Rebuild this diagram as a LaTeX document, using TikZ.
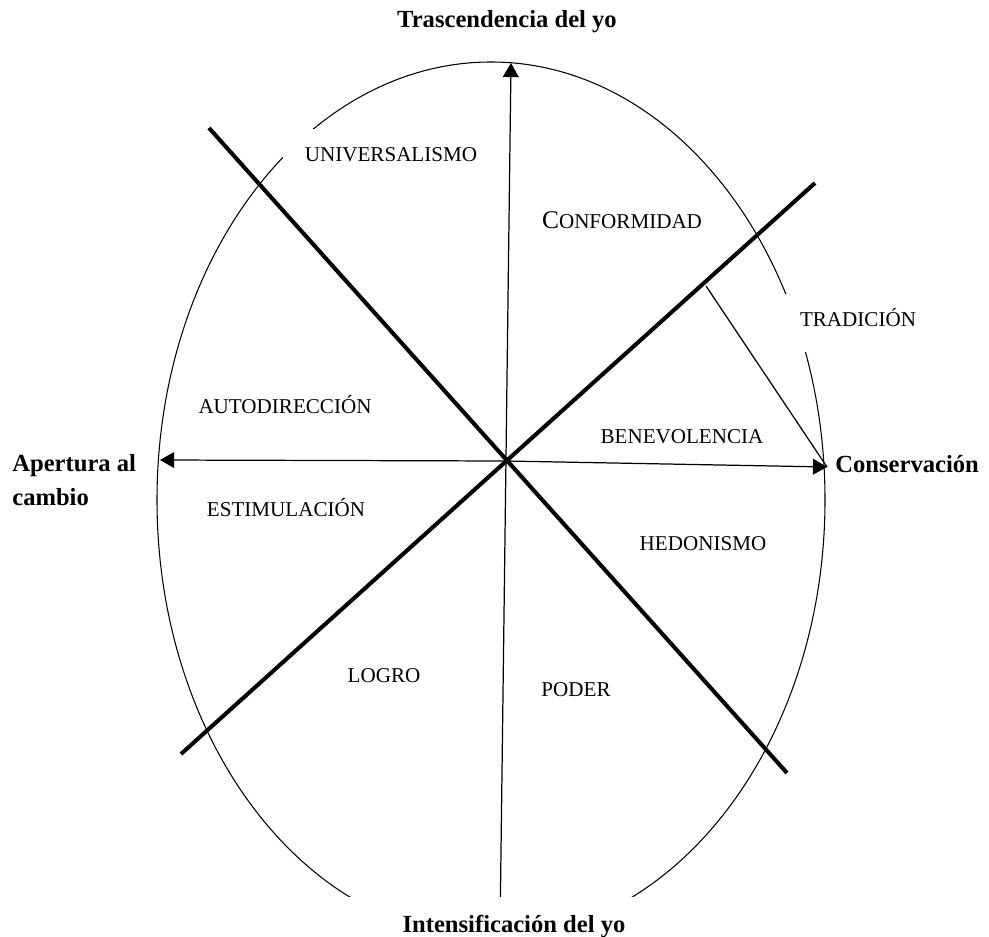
\documentclass[tikz,border=0pt]{standalone}
\usepackage{fontspec}
\setmainfont{Liberation Serif}
\usetikzlibrary{arrows.meta}
\tikzset {>={Triangle[length=8pt,width=9pt]}}
\tikzset{
  valor/.style={fill=white,anchor=base,inner xsep=12.5pt,inner ysep=10.8pt,
    text height=8pt,text depth=3.4pt,font=\fontsize{12}{14}\selectfont},
  polo/.style={anchor=base,inner sep=0pt,font=\fontsize{14}{19}\selectfont\bfseries},
  grueso/.style={line width=2.3pt},
  fino/.style={line width=0.7pt}
}

\begin{document}
\begin{tikzpicture}[x=0.2mm,y=-0.2mm]
\useasboundingbox (0,0) rectangle (989,937);
\coordinate (centro) at (506,461);
\coordinate (arriba) at (511,63);
\coordinate (abajo) at (500,930);
\coordinate (izq) at (160,460);
\coordinate (der) at (827,467);
\coordinate (g1a) at (209,128);
\coordinate (g1b) at (787,773);
\coordinate (g2a) at (181,754);
\coordinate (g2b) at (815,183);
\coordinate (t1) at (706,286);

\draw[line width=0.6pt] (491,500) ellipse [x radius=334,y radius=438];
\draw[->,fino] (abajo) -- (arriba);

\node[valor] (univ) at (391,162) {UNIVERSALISMO};
\node[valor] (conf) at (622,229) {{\fontsize{14.5}{14}\selectfont C}ONFORMIDAD};
\node[valor] (trad) at (858,327) {TRADICIÓN};
\node[valor] (auto) at (285,413) {AUTODIRECCIÓN};
\node[valor] (bene) at (682,443) {BENEVOLENCIA};
\node[valor] (esti) at (286,516) {ESTIMULACIÓN};
\node[valor] (hedo) at (703,550) {HEDONISMO};
\node[valor] (logro) at (384,682) {LOGRO};
\node[valor] (poder) at (576,696) {PODER};

\node[polo] (trasc) at (507,28) {Trascendencia del yo};
\node[polo,anchor=base west,align=left] (apert) at (12,505) {Apertura al\\cambio};
\node[polo,anchor=base west] (conser) at (835,472) {Conservación};
\node[polo,fill=white,minimum width=193pt,text height=9.5pt,inner ysep=10.5pt]
  (intens) at (514,932) {Intensificación del yo};

\draw[grueso] (g1a) -- (g1b);
\draw[grueso] (g2a) -- (g2b);
\draw[->,fino] (centro) -- (izq);
\draw[->,fino] (centro) -- (der);
\draw[fino] (t1) -- (der);
\end{tikzpicture}
\end{document}
